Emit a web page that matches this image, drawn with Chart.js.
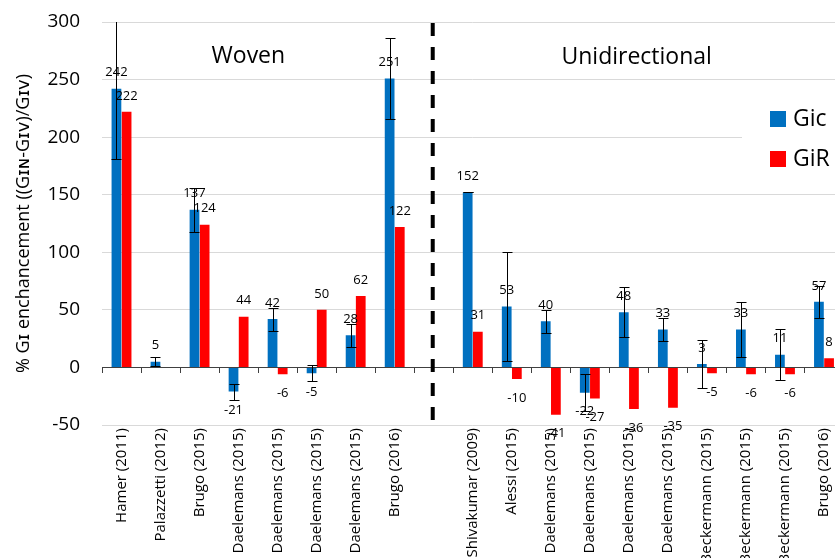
<!DOCTYPE html>
<html>
<head>
<meta charset="utf-8">
<script src="https://cdn.jsdelivr.net/npm/chart.js@4.4.0/dist/chart.umd.min.js"></script>
<style>
  html, body { margin: 0; padding: 0; background: #fff; overflow: hidden; }
  canvas { display: block; }
</style>
</head>
<body>
<canvas id="chart" width="845" height="565"></canvas>
<script>
// studies (empty slot = gap between woven and unidirectional)
const studies = [
  "Hamer (2011)", "Palazzetti (2012)", "Brugo (2015)", "Daelemans (2015)",
  "Daelemans (2015)", "Daelemans (2015)", "Daelemans (2015)", "Brugo (2016)",
  "",
  "Shivakumar (2009)", "Alessi (2015)", "Daelemans (2015)", "Daelemans (2015)",
  "Daelemans (2015)", "Daelemans (2015)", "Beckermann (2015)", "Beckermann (2015)",
  "Beckermann (2015)", "Brugo (2016)"
];
const gic    = [242, 5, 137, -21, 42, -5, 28, 251, null, 152, 53, 40, -22, 48, 33, 3, 33, 11, 57];
const gicErr = [61, 4, 19, 7, 10, 7, 10, 35, null, 0, 47, 10, 16, 22, 10, 21, 24, 22, 14];
const gir    = [222, null, 124, 44, -6, 50, 62, 122, null, 31, -10, -41, -27, -36, -35, -5, -6, -6, 8];
const yTickValues = [-50, 0, 50, 100, 150, 200, 250, 300];
const groupNames = ["Woven", "Unidirectional"];
const gapIndex = 8;

const FONT = "'Open Sans', 'DejaVu Sans', sans-serif";

// error bars, value labels, separator, group names, legend
const extras = {
  id: "extras",
  afterDatasetsDraw(chart) {
    const { ctx, chartArea, scales: { x, y } } = chart;

    // error bars on Gic
    const gicMeta = chart.getDatasetMeta(0);
    ctx.save();
    ctx.beginPath();
    ctx.rect(chartArea.left, chartArea.top, chartArea.width, chartArea.height);
    ctx.clip();
    ctx.strokeStyle = "#000";
    ctx.lineWidth = 1;
    gicMeta.data.forEach((bar, i) => {
      const v = gic[i], e = gicErr[i];
      if (v == null || e == null) return;
      const top = Math.round(y.getPixelForValue(v + e)) + 0.5;
      const bot = Math.round(y.getPixelForValue(v - e)) + 0.5;
      const bx = Math.round(bar.x) + 0.5;
      ctx.beginPath();
      ctx.moveTo(bx, top); ctx.lineTo(bx, bot);
      ctx.moveTo(bx - 5, top); ctx.lineTo(bx + 5, top);
      ctx.moveTo(bx - 5, bot); ctx.lineTo(bx + 5, bot);
      ctx.stroke();
    });
    ctx.restore();

    // value labels
    ctx.save();
    ctx.font = "13px " + FONT;
    ctx.fillStyle = "#000";
    ctx.textAlign = "center";
    ctx.textBaseline = "middle";
    [gic, gir].forEach((values, d) => {
      chart.getDatasetMeta(d).data.forEach((bar, i) => {
        const v = values[i];
        if (v == null) return;
        const ly = v >= 0 ? bar.y - 16 : bar.y + 19;
        ctx.fillText(String(v), bar.x, ly);
      });
    });
    ctx.restore();

    // dashed separator
    const sx = x.getPixelForValue(gapIndex) - 1;
    ctx.save();
    ctx.strokeStyle = "#000";
    ctx.lineWidth = 4;
    ctx.setLineDash([13, 11]);
    ctx.beginPath();
    ctx.moveTo(sx, chartArea.top + 1);
    ctx.lineTo(sx, chartArea.bottom);
    ctx.stroke();
    ctx.restore();

    // group names
    ctx.save();
    ctx.font = "23px " + FONT;
    ctx.fillStyle = "#000";
    ctx.textAlign = "center";
    ctx.textBaseline = "middle";
    const gy = y.getPixelForValue(270);
    ctx.fillText(groupNames[0], x.getPixelForValue(3.25), gy);
    ctx.fillText(groupNames[1], x.getPixelForValue(13.2), gy + 1);
    ctx.restore();

    // legend box
    ctx.save();
    ctx.fillStyle = "#fff";
    ctx.fillRect(742, 88, chart.width - 742, 100);
    ctx.font = "23px " + FONT;
    ctx.textBaseline = "middle";
    ctx.textAlign = "left";
    chart.data.datasets.forEach((ds, i) => {
      const cy = 119 + i * 40;
      ctx.fillStyle = ds.backgroundColor;
      ctx.fillRect(770, cy - 8, 16, 16);
      ctx.fillStyle = "#000";
      ctx.fillText(ds.label, 793, cy);
    });
    ctx.restore();
  }
};

new Chart(document.getElementById("chart"), {
  type: "bar",
  data: {
    labels: studies,
    datasets: [
      { label: "Gic", data: gic, backgroundColor: "#0070C0" },
      { label: "GiR", data: gir, backgroundColor: "#FF0000" }
    ]
  },
  options: {
    responsive: false,
    animation: false,
    devicePixelRatio: 1,
    categoryPercentage: 0.52,
    barPercentage: 0.96,
    layout: { padding: { top: 22, left: 0, right: 0, bottom: 0 } },
    plugins: {
      legend: { display: false },
      tooltip: { enabled: false }
    },
    scales: {
      x: {
        grid: { display: false, drawTicks: false },
        border: { display: false },
        ticks: {
          autoSkip: false,
          maxRotation: 90,
          minRotation: 90,
          padding: 3,
          color: "#000",
          font: { family: FONT, size: 15 }
        },
        afterFit(scale) { scale.height = 140; }
      },
      x2: {
        type: "category",
        position: { y: 0 },
        labels: studies,
        offset: true,
        grid: { offset: true, drawOnChartArea: false, drawTicks: true, tickLength: 5, color: "#404040" },
        border: { display: true, color: "#404040", width: 1 },
        ticks: { display: false }
      },
      y: {
        min: -50,
        max: 300,
        afterBuildTicks(scale) { scale.ticks = yTickValues.map(v => ({ value: v })); },
        grid: {
          drawTicks: true,
          tickLength: 22,
          tickColor: "rgba(0,0,0,0)",
          color: c => (c.tick && c.tick.value === 0 ? "rgba(0,0,0,0)" : "#D9D9D9")
        },
        border: { display: false },
        ticks: {
          padding: 0,
          color: "#000",
          font: { family: FONT, size: 19 }
        },
        title: {
          display: true,
          text: "% Gɪ enchancement ((Gɪɴ-Gɪᴠ)/Gɪᴠ)",
          color: "#000",
          padding: { top: 13, bottom: 0 },
          font: { family: FONT, size: 18 }
        },
        afterFit(scale) { scale.width = 102; }
      }
    }
  },
  plugins: [extras]
});
</script>
</body>
</html>
